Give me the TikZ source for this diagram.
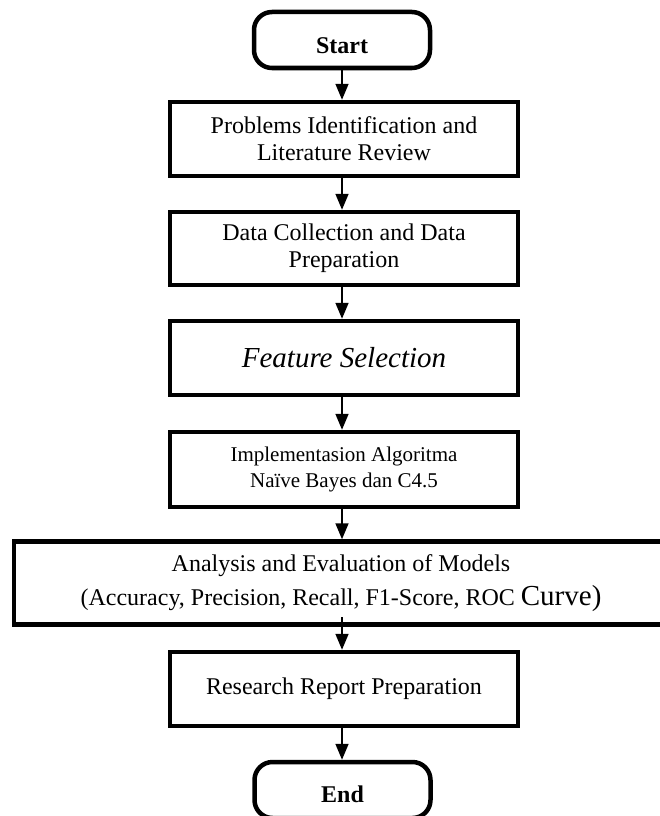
\documentclass[tikz,border=0pt]{standalone}
\usepackage{fontspec}
\setmainfont{Liberation Serif}
\usetikzlibrary{arrows.meta}
\tikzset{
  boxline/.style={draw=black, line width=4.5pt, fill=white},
  proc/.style={boxline, inner sep=0pt, align=center, minimum width=348pt, font=\fontsize{24}{27}\selectfont},
  term/.style={boxline, rounded corners=18pt, inner sep=0pt, minimum width=176pt, minimum height=56pt, font=\fontsize{24}{27}\selectfont\bfseries},
  arr/.style={draw=black, line width=1.7pt, -{Triangle[length=16pt,width=13pt]}},
}
\begin{document}
\begin{tikzpicture}[x=1pt,y=-1pt]
\useasboundingbox (0,0) rectangle (660,816);
\clip (0,0) rectangle (660,816);
\fill[white] (0,0) rectangle (660,816);

\node[term, text height=28pt, text depth=0pt] (start) at (342,40) {Start};
\node[proc, minimum height=74pt] (b1) at (344,139) {Problems Identification and\\Literature Review};
\node[proc, minimum height=73pt] (b2) at (344,248.5) {Data Collection and Data\\Preparation};
\node[proc, minimum height=74pt, font=\fontsize{29}{33}\selectfont\itshape] (b3) at (344,358) {Feature Selection};
\node[proc, minimum height=75pt, font=\fontsize{21}{26}\selectfont] (b4) at (344,469.5) {Implementasion Algoritma\\Na\"ive Bayes dan C4.5};
\node[proc, minimum width=654pt, minimum height=83pt, font=\fontsize{24}{34}\selectfont] (b5) at (341,583) {Analysis and Evaluation of Models\\(Accuracy, Precision, Recall, F1-Score, ROC {\fontsize{29}{34}\selectfont Curve)}};
\node[proc, minimum height=74pt] (b6) at (344,689) {Research Report Preparation};
\node[term, text height=24pt, text depth=0pt] (end) at (342.5,790) {End};

\coordinate (c5) at (342,617);

\draw[arr] (start.south) -- (start.south |- b1.north);
\draw[arr] (b1.south -| start.south) -- (start.south |- b2.north);
\draw[arr] (b2.south -| start.south) -- (start.south |- b3.north);
\draw[arr] (b3.south -| start.south) -- (start.south |- b4.north);
\draw[arr] (b4.south -| start.south) -- (start.south |- b5.north);
\draw[arr] (c5) -- (c5 |- b6.north);
\draw[arr] (b6.south -| start.south) -- (start.south |- end.north);
\end{tikzpicture}
\end{document}
